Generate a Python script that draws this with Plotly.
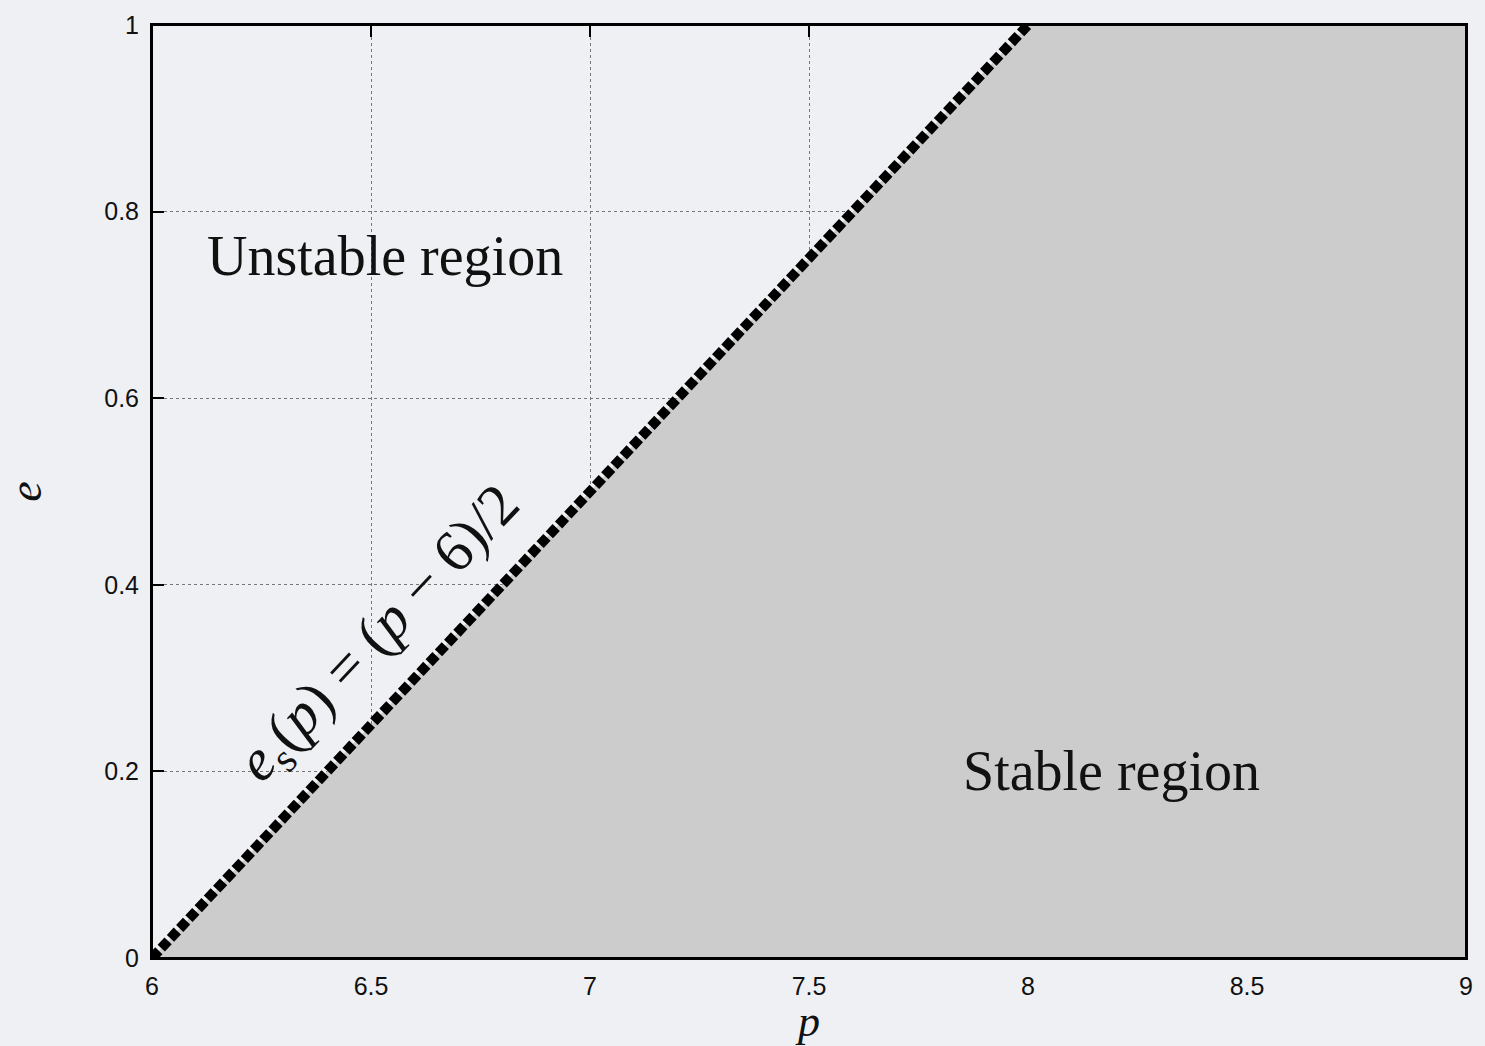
import plotly.graph_objects as go

# Data
p_line = [6, 8]          # boundary e_s(p) = (p-6)/2
e_line = [0, 1]
p_range = [6, 9]
e_range = [0, 1]
x_ticks = [6, 6.5, 7, 7.5, 8, 8.5, 9]
x_ticklabels = ["6", "6.5", "7", "7.5", "8", "8.5", "9"]
y_ticks = [0, 0.2, 0.4, 0.6, 0.8, 1]
y_ticklabels = ["0", "0.2", "0.4", "0.6", "0.8", "1"]

BG = "#eff0f3"
SERIF = "Liberation Serif, Times New Roman, serif"
SANS = "Liberation Sans, Arial, Helvetica, sans-serif"

# Stable region polygon: below boundary line to right edge
poly_p = p_line + [p_range[1], p_range[1], p_line[0]]
poly_e = e_line + [e_range[1], e_range[0], e_line[0]]

fig = go.Figure()
fig.add_trace(go.Scatter(
    x=poly_p, y=poly_e, mode="lines", fill="toself",
    fillcolor="#cccccc", line=dict(width=0), hoverinfo="skip", showlegend=False))
fig.add_trace(go.Scatter(
    x=p_line, y=e_line, mode="lines",
    line=dict(color="black", width=10, dash="10px,3.5px"),
    showlegend=False, cliponaxis=False))

fig.add_annotation(x=6.532, y=0.752, text="Unstable region", showarrow=False,
                   font=dict(family=SERIF, size=56, color="#111"), xref="x", yref="y")
fig.add_annotation(x=8.19, y=0.2, text="Stable region", showarrow=False,
                   font=dict(family=SERIF, size=56, color="#111"), xref="x", yref="y")
fig.add_annotation(x=6.521, y=0.346,
                   text="<i>e</i><sub>s</sub>(<i>p</i>)&#8197;=&#8197;(<i>p</i>&#8197;−&#8197;6)/2",
                   showarrow=False, textangle=-46.8,
                   font=dict(family=SERIF, size=59, color="#111"), xref="x", yref="y")

axis_common = dict(
    showline=True, linecolor="black", linewidth=2, mirror="allticks",
    ticks="inside", ticklen=12, tickwidth=2, tickcolor="black",
    showgrid=True, gridcolor="#777", gridwidth=1, griddash="dot",
    zeroline=False, tickfont=dict(family=SANS, size=25, color="#111"),
    layer="below traces",
)
fig.update_xaxes(range=p_range, tickvals=x_ticks, ticktext=x_ticklabels,
                 title=dict(text="<i>p</i>", font=dict(family=SERIF, size=44, color="#111"), standoff=0),
                 ticklabelstandoff=5, **axis_common)
fig.update_yaxes(range=e_range, tickvals=y_ticks, ticktext=y_ticklabels,
                 title=dict(text="<i>e</i>", font=dict(family=SERIF, size=46, color="#111"), standoff=50),
                 ticklabelstandoff=6, **axis_common)

# Plot frame drawn above the fill
fig.add_shape(type="rect", xref="paper", yref="paper", x0=0, y0=0, x1=1, y1=1,
              line=dict(color="black", width=2), layer="above")

fig.update_layout(
    width=1485, height=1046, autosize=False,
    margin=dict(l=152, r=19, t=25, b=88),
    paper_bgcolor=BG, plot_bgcolor=BG,
)
fig.write_html("out.html")
